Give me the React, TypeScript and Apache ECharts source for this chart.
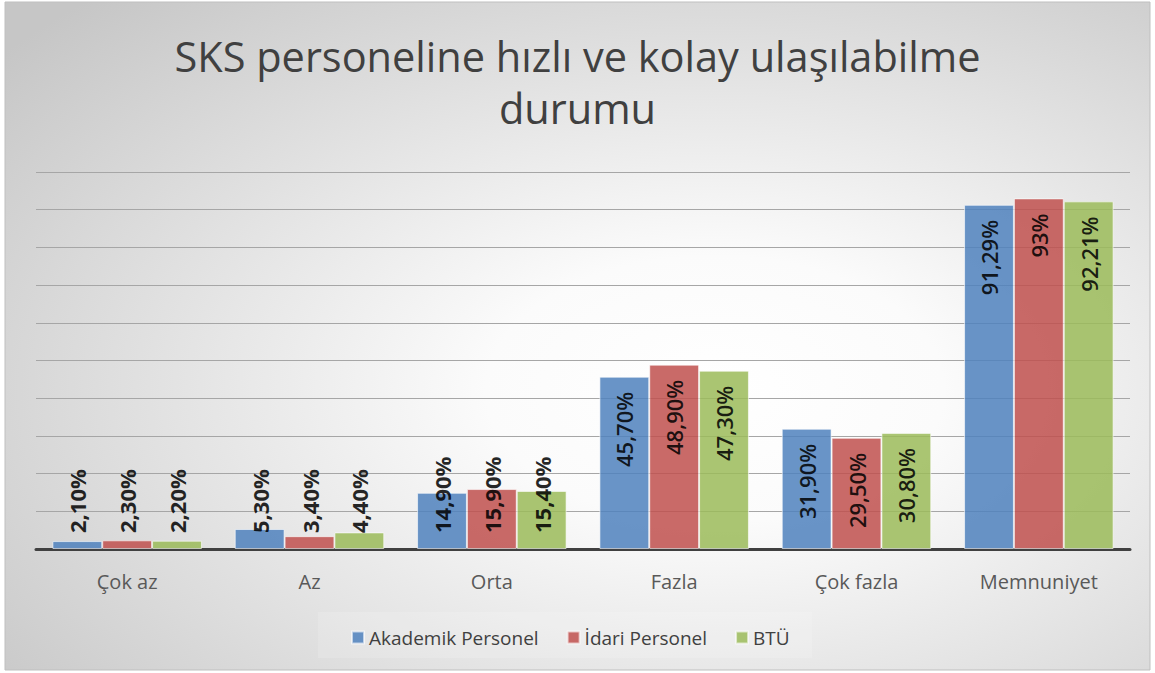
import React, { useEffect, useRef } from "react";
import * as echarts from "echarts";

const categories = ["Çok az", "Az", "Orta", "Fazla", "Çok fazla", "Memnuniyet"];
const akademik = [2.1, 5.3, 14.9, 45.7, 31.9, 91.29];
const idari = [2.3, 3.4, 15.9, 48.9, 29.5, 93];
const btu = [2.2, 4.4, 15.4, 47.3, 30.8, 92.21];
const seriesNames = ["Akademik Personel", "İdari Personel", "BTÜ"];
const colors = ["#4f81bd", "#c0504d", "#9bbb59"];
const yTicks = { min: 0, max: 100, interval: 10 };

const FONT = "'Open Sans', 'DejaVu Sans', sans-serif";

function fmt(v: number): string {
  const s = Number.isInteger(v) ? String(v) : v.toFixed(2);
  return s.replace(".", ",") + "%";
}

function buildData(vals: number[]) {
  return vals.map((v, i) => {
    const outside = i < 3;
    return {
      value: v,
      label: outside
        ? {
            position: "insideBottom",
            distance: 16,
            rotate: 90,
            align: "left",
            verticalAlign: "middle",
            fontWeight: "bold",
          }
        : {
            position: "insideTop",
            distance: 15,
            rotate: 90,
            align: "right",
            verticalAlign: "middle",
            fontWeight: 600,
          },
    };
  });
}

export default function App() {
  const ref = useRef<HTMLDivElement>(null);
  useEffect(() => {
    if (!ref.current) return;
    const chart = echarts.init(ref.current, null, { renderer: "svg" });
    const all = [akademik, idari, btu];
    chart.setOption({
      animation: false,
      backgroundColor: "#ffffff",
      graphic: [
        {
          type: "rect",
          z: -10,
          silent: true,
          shape: { x: 5, y: 2, width: 1145, height: 668 },
          style: {
            fill: new echarts.graphic.RadialGradient(0.62, 0.58, 0.8, [
              { offset: 0, color: "#ffffff" },
              { offset: 0.25, color: "#fbfbfb" },
              { offset: 1, color: "#c6c6c6" },
            ]),
            stroke: "#bfbfbf",
            lineWidth: 1,
          },
        },
        {
          type: "rect",
          z: -9,
          silent: true,
          shape: { x: 318, y: 612, width: 494, height: 46 },
          style: { fill: "rgba(255,255,255,0.15)" },
        },
      ],
      title: {
        text: "SKS personeline hızlı ve kolay ulaşılabilme\ndurumu",
        left: "center",
        top: 25,
        textStyle: {
          fontFamily: FONT,
          fontSize: 41.5,
          fontWeight: "normal",
          color: "#404040",
          lineHeight: 52,
        },
      },
      legend: {
        data: seriesNames,
        left: 346,
        top: 623,
        itemWidth: 12,
        itemHeight: 12,
        itemGap: 28,
        icon: "rect",
        textStyle: { fontFamily: FONT, fontSize: 19, color: "#404040" },
      },
      grid: { left: 36, right: 25, top: 172, bottom: 124 },
      xAxis: {
        type: "category",
        data: categories,
        axisLine: { lineStyle: { color: "#404040", width: 3 } },
        axisTick: { show: false },
        axisLabel: {
          fontFamily: FONT,
          fontSize: 20,
          color: "#595959",
          margin: 22,
        },
      },
      yAxis: {
        type: "value",
        min: yTicks.min,
        max: yTicks.max,
        interval: yTicks.interval,
        axisLabel: { show: false },
        axisLine: { show: false },
        axisTick: { show: false },
        splitLine: { lineStyle: { color: "#a6a6a6", width: 1.2 } },
      },
      series: all.map((vals, k) => ({
        name: seriesNames[k],
        type: "bar",
        barGap: "0%",
        barCategoryGap: "18%",
        itemStyle: {
          color: colors[k],
          opacity: 0.85,
          borderColor: "rgba(255,255,255,0.7)",
          borderWidth: 1,
        },
        label: {
          show: true,
          formatter: (p: any) => fmt(p.value),
          fontFamily: FONT,
          fontSize: 22,
          color: "#000000",
        },
        data: buildData(vals),
      })),
    });
    return () => chart.dispose();
  }, []);
  return (
    <div
      ref={ref}
      style={{ position: "fixed", left: 0, top: 0, width: 1155, height: 673 }}
    />
  );
}
